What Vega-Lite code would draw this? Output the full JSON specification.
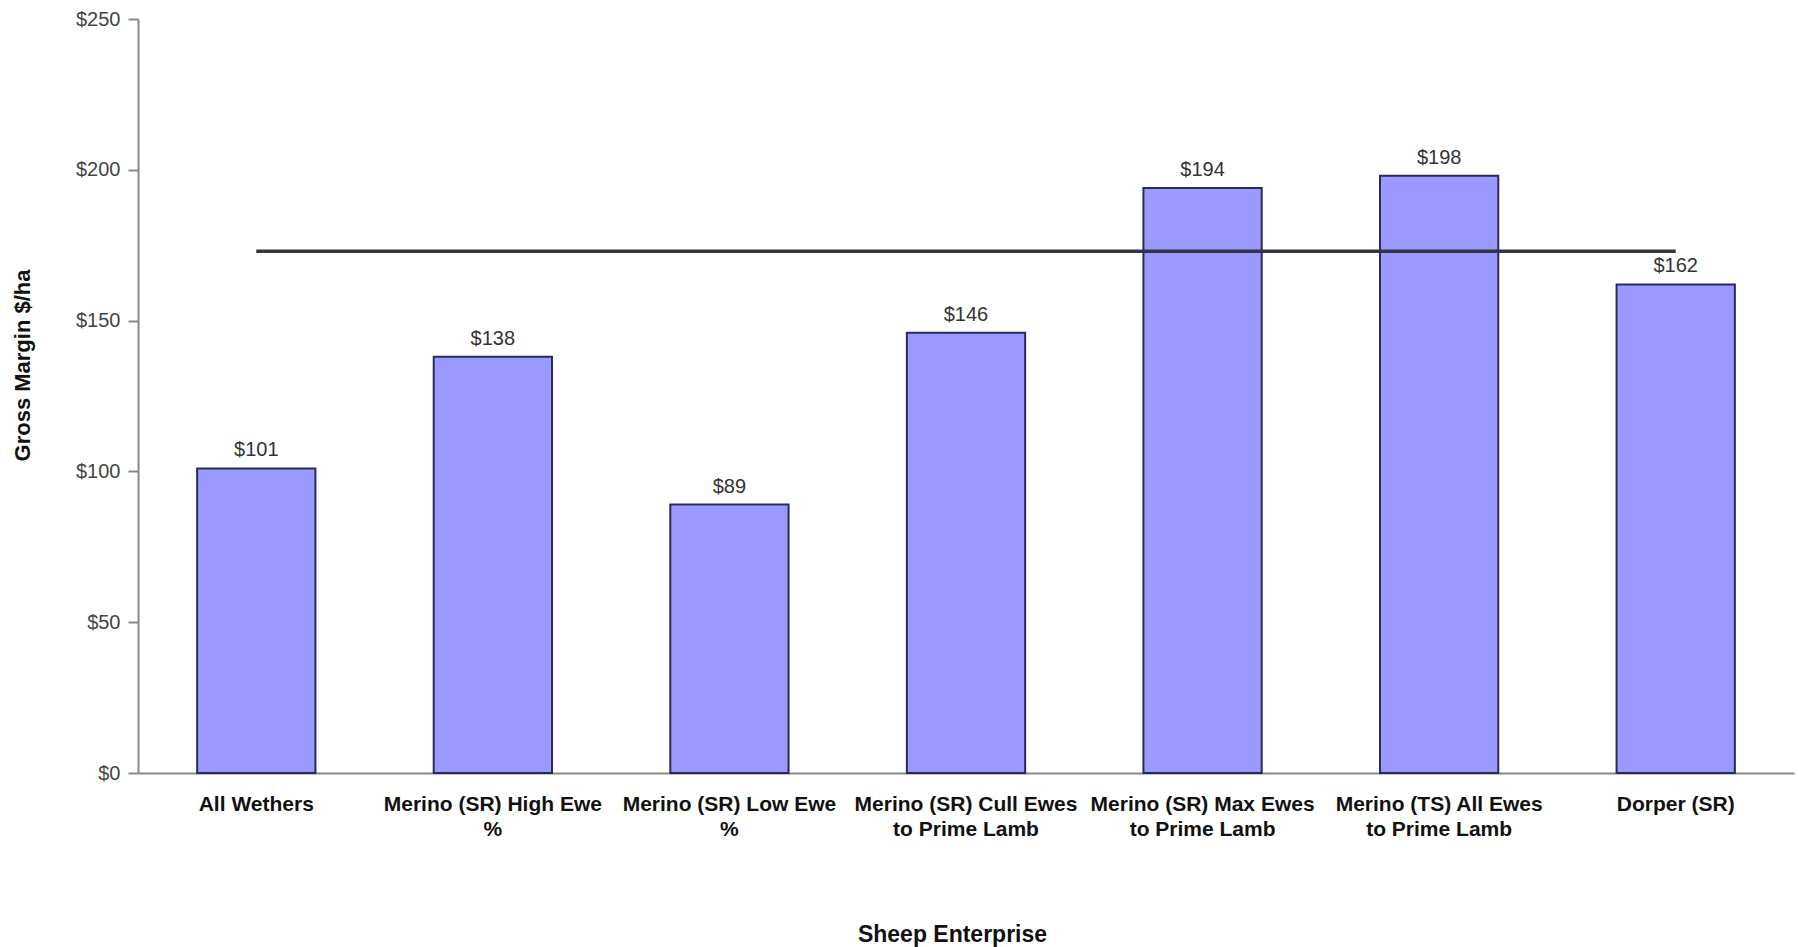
{
  "$schema": "https://vega.github.io/schema/vega-lite/v6.json",
  "width": 1656,
  "height": 754,
  "autosize": {"type": "none"},
  "padding": {"left": 138, "top": 19, "right": 4, "bottom": 174},
  "background": "white",
  "config": {
    "view": {"stroke": null},
    "font": "Liberation Sans"
  },
  "data": {
    "values": [
      {"enterprise": "All Wethers", "margin": 101, "benchmark": 173},
      {"enterprise": "Merino (SR) High Ewe %", "margin": 138, "benchmark": 173},
      {"enterprise": "Merino (SR) Low Ewe %", "margin": 89, "benchmark": 173},
      {"enterprise": "Merino (SR) Cull Ewes to Prime Lamb", "margin": 146, "benchmark": 173},
      {"enterprise": "Merino (SR) Max Ewes to Prime Lamb", "margin": 194, "benchmark": 173},
      {"enterprise": "Merino (TS) All Ewes to Prime Lamb", "margin": 198, "benchmark": 173},
      {"enterprise": "Dorper (SR)", "margin": 162, "benchmark": 173}
    ]
  },
  "encoding": {
    "x": {
      "field": "enterprise",
      "type": "nominal",
      "sort": null,
      "scale": {"paddingInner": 0.5, "paddingOuter": 0.25},
      "axis": {
        "title": "Sheep Enterprise",
        "titleFont": "Liberation Sans",
        "titleFontSize": 23,
        "titleFontWeight": "bold",
        "titleColor": "#111111",
        "titleBaseline": "middle",
        "titleX": 814,
        "titleY": 161,
        "labelAngle": 0,
        "labelFont": "Liberation Sans",
        "labelFontSize": 21,
        "labelFontWeight": "bold",
        "labelColor": "#111111",
        "labelLineHeight": 25,
        "labelPadding": 20,
        "labelLimit": 0,
        "labelExpr": "split(replace(replace(datum.label, ' to Prime', '|to Prime'), ' %', '|%'), '|')",
        "ticks": false,
        "domainColor": "#888888",
        "domainWidth": 2,
        "grid": false
      }
    }
  },
  "layer": [
    {
      "mark": {"type": "bar", "color": "#9999ff", "stroke": "#2a2a5a", "strokeWidth": 2},
      "encoding": {
        "y": {
          "field": "margin",
          "type": "quantitative",
          "scale": {"domain": [0, 250], "nice": false},
          "axis": {
            "title": "Gross Margin $/ha",
            "titleFont": "Liberation Sans",
            "titleFontSize": 22,
            "titleFontWeight": "bold",
            "titleColor": "#111111",
            "titleBaseline": "middle",
            "titleX": -116,
            "titleY": 346,
            "values": [0, 50, 100, 150, 200, 250],
            "format": "$.0f",
            "labelFont": "Liberation Sans",
            "labelFontSize": 20,
            "labelColor": "#444444",
            "labelPadding": 8,
            "tickSize": 10,
            "tickColor": "#888888",
            "tickWidth": 2,
            "domainColor": "#888888",
            "domainWidth": 2,
            "grid": false
          }
        }
      }
    },
    {
      "mark": {"type": "line", "color": "#33334a", "strokeWidth": 3.5},
      "encoding": {
        "y": {"field": "benchmark", "type": "quantitative"}
      }
    },
    {
      "mark": {"type": "text", "baseline": "alphabetic", "dy": -12, "fontSize": 20, "font": "Liberation Sans", "color": "#333333"},
      "encoding": {
        "y": {"field": "margin", "type": "quantitative"},
        "text": {"field": "margin", "type": "quantitative", "format": "$.0f"}
      }
    }
  ]
}
